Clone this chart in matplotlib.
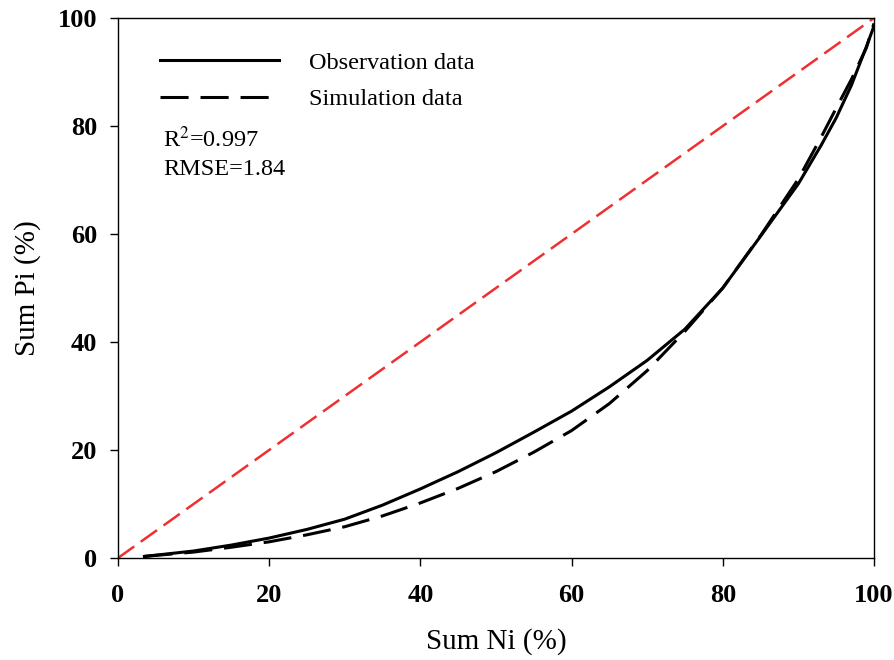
import matplotlib
matplotlib.use("Agg")
import matplotlib.pyplot as plt

# cumulative curves
obs_x = [3.5, 10, 15, 20, 25, 30, 35, 40, 45, 50, 55, 60, 65, 70, 75, 80, 85, 90, 93, 95, 97, 99, 100]
obs_y = [0.3, 1.3, 2.4, 3.7, 5.3, 7.2, 9.8, 12.8, 16.0, 19.5, 23.3, 27.2, 31.7, 36.6, 42.4,
         50.0, 59.6, 69.3, 76.4, 81.5, 87.5, 94.7, 98.5]

sim_x = [3.5, 10, 15, 20, 25, 30, 35, 40, 45, 50, 55, 60, 65, 70, 75, 80, 85, 90, 93, 95, 97, 99, 100]
sim_y = [0.3, 1.1, 2.0, 3.0, 4.3, 5.8, 7.8, 10.2, 12.9, 16.0, 19.6, 23.6, 28.6, 34.7, 42.0,
         50.0, 59.7, 70.2, 77.9, 83.3, 88.6, 94.5, 99.0]

line_x = [0, 100]
line_y = [0, 100]

ticks = [0, 20, 40, 60, 80, 100]

plt.rcParams["font.family"] = ["Liberation Serif", "DejaVu Serif"]
plt.rcParams["mathtext.fontset"] = "stix"

fig = plt.figure(figsize=(8.95, 6.6), dpi=100)
ax = fig.add_axes([0.1318, 0.1545, 0.8447, 0.8182])

ax.plot(line_x, line_y, color="#ee3030", lw=1.8, dashes=(8, 3.2), zorder=2)
ax.plot(obs_x, obs_y, color="black", lw=2.2, label="Observation data", zorder=3)
ax.plot(sim_x, sim_y, color="black", lw=2.2, dashes=(9.2, 3.9),
        label="Simulation data", zorder=3)

ax.set_xlim(0, 100)
ax.set_ylim(0, 100)
ax.set_xticks(ticks)
ax.set_yticks(ticks)
ax.tick_params(direction="out", length=6, width=1, top=False, right=False)
ax.tick_params(axis="x", pad=13)
ax.tick_params(axis="y", pad=9)
for lab in ax.get_xticklabels() + ax.get_yticklabels():
    lab.set_fontsize(19)
    lab.set_fontweight("bold")
for sp in ax.spines.values():
    sp.set_linewidth(1.0)

ax.set_xlabel("Sum Ni (%)", fontsize=21, labelpad=15)
ax.set_ylabel("Sum Pi (%)", fontsize=21, labelpad=12)

ax.legend(loc="upper left", bbox_to_anchor=(0.0556, 0.938), frameon=False,
          fontsize=17.5, handlelength=4.9, handletextpad=1.25,
          labelspacing=0.6, borderpad=0, borderaxespad=0)

ax.text(0.0595, 0.776, r"R$^2$=0.997", transform=ax.transAxes,
        fontsize=17.5, va="center", ha="left")
ax.text(0.0595, 0.720, "RMSE=1.84", transform=ax.transAxes,
        fontsize=17.5, va="center", ha="left")

fig.savefig("out.png", dpi=100)
